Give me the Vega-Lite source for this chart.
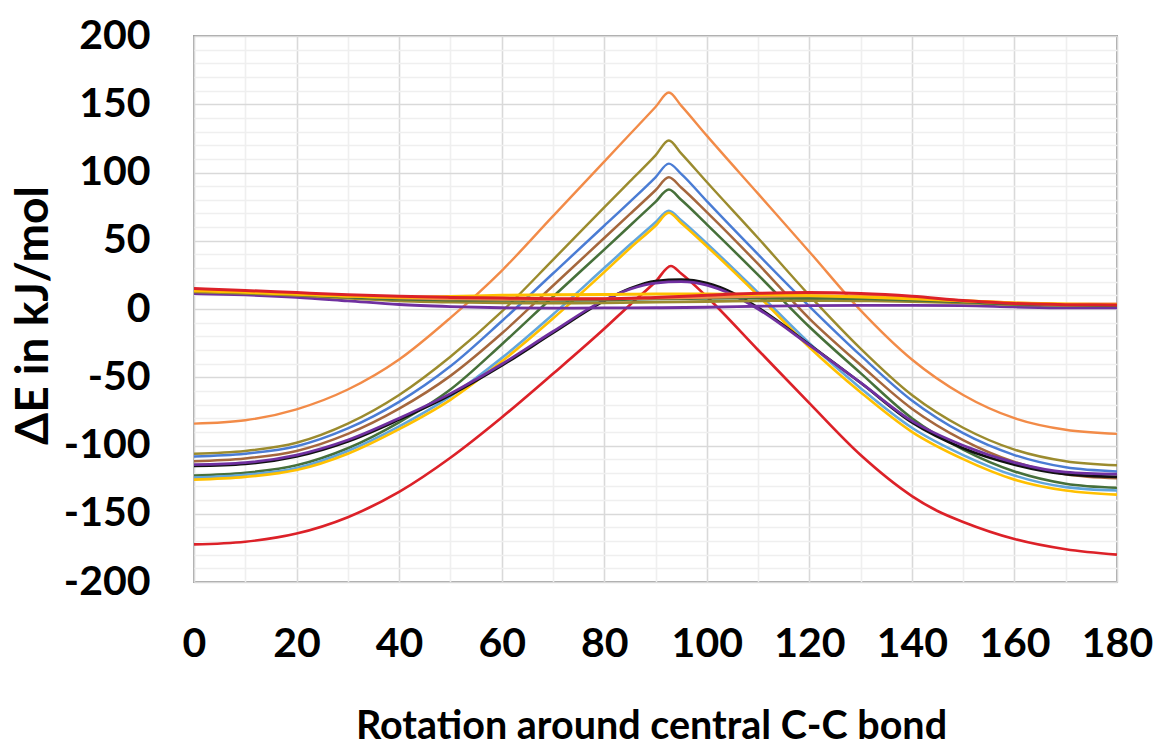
{
  "$schema": "https://vega.github.io/schema/vega-lite/v6.json",
  "autosize": {"type": "none"},
  "padding": {"left": 194, "top": 36, "right": 42, "bottom": 165},
  "width": 923,
  "height": 546,
  "background": "white",
  "config": {"view": {"stroke": "#A3A3A3", "strokeWidth": 2}},
  "data": {"values": [
    {"s":"a","x":0,"y":-84},{"s":"a","x":10,"y":-81.5},{"s":"a","x":20,"y":-73.5},{"s":"a","x":30,"y":-59},{"s":"a","x":40,"y":-37},{"s":"a","x":50,"y":-6.5},{"s":"a","x":60,"y":28},{"s":"a","x":70,"y":68},{"s":"a","x":80,"y":108},{"s":"a","x":85,"y":128},{"s":"a","x":90,"y":148},{"s":"a","x":92.6,"y":158.6},{"s":"a","x":95,"y":149},{"s":"a","x":100,"y":127},{"s":"a","x":110,"y":84.5},{"s":"a","x":120,"y":42},{"s":"a","x":130,"y":-1},{"s":"a","x":140,"y":-37},{"s":"a","x":150,"y":-63},{"s":"a","x":160,"y":-80},{"s":"a","x":170,"y":-88.5},{"s":"a","x":180,"y":-91.5},
    {"s":"b","x":0,"y":-106},{"s":"b","x":10,"y":-104},{"s":"b","x":20,"y":-98},{"s":"b","x":30,"y":-84},{"s":"b","x":40,"y":-63},{"s":"b","x":50,"y":-35},{"s":"b","x":60,"y":-2},{"s":"b","x":70,"y":36},{"s":"b","x":80,"y":74.5},{"s":"b","x":85,"y":93.5},{"s":"b","x":90,"y":112.5},{"s":"b","x":92.6,"y":123.5},{"s":"b","x":95,"y":114},{"s":"b","x":100,"y":93},{"s":"b","x":110,"y":52},{"s":"b","x":120,"y":10},{"s":"b","x":130,"y":-29},{"s":"b","x":140,"y":-63},{"s":"b","x":150,"y":-87},{"s":"b","x":160,"y":-103},{"s":"b","x":170,"y":-111.5},{"s":"b","x":180,"y":-114.5},
    {"s":"c","x":0,"y":-108},{"s":"c","x":10,"y":-106},{"s":"c","x":20,"y":-100.5},{"s":"c","x":30,"y":-87.5},{"s":"c","x":40,"y":-68},{"s":"c","x":50,"y":-42},{"s":"c","x":60,"y":-9},{"s":"c","x":70,"y":26},{"s":"c","x":80,"y":61},{"s":"c","x":85,"y":78.5},{"s":"c","x":90,"y":96.5},{"s":"c","x":92.6,"y":106.5},{"s":"c","x":95,"y":99},{"s":"c","x":100,"y":79},{"s":"c","x":110,"y":40},{"s":"c","x":120,"y":2},{"s":"c","x":130,"y":-34},{"s":"c","x":140,"y":-67},{"s":"c","x":150,"y":-91},{"s":"c","x":160,"y":-107},{"s":"c","x":170,"y":-116},{"s":"c","x":180,"y":-119},
    {"s":"d","x":0,"y":-111.5},{"s":"d","x":10,"y":-109.5},{"s":"d","x":20,"y":-104},{"s":"d","x":30,"y":-91.5},{"s":"d","x":40,"y":-73},{"s":"d","x":50,"y":-49},{"s":"d","x":60,"y":-18},{"s":"d","x":70,"y":17},{"s":"d","x":80,"y":52},{"s":"d","x":85,"y":69.5},{"s":"d","x":90,"y":87},{"s":"d","x":92.6,"y":96.5},{"s":"d","x":95,"y":89},{"s":"d","x":100,"y":71},{"s":"d","x":110,"y":33},{"s":"d","x":120,"y":-7},{"s":"d","x":130,"y":-41},{"s":"d","x":140,"y":-73},{"s":"d","x":150,"y":-96},{"s":"d","x":160,"y":-112},{"s":"d","x":170,"y":-121},{"s":"d","x":180,"y":-124},
    {"s":"e","x":0,"y":-122},{"s":"e","x":10,"y":-120},{"s":"e","x":20,"y":-114.5},{"s":"e","x":30,"y":-102},{"s":"e","x":40,"y":-83},{"s":"e","x":50,"y":-59},{"s":"e","x":60,"y":-26},{"s":"e","x":70,"y":9},{"s":"e","x":80,"y":43.5},{"s":"e","x":85,"y":61},{"s":"e","x":90,"y":78.5},{"s":"e","x":92.6,"y":87.5},{"s":"e","x":95,"y":80},{"s":"e","x":100,"y":62},{"s":"e","x":110,"y":25},{"s":"e","x":120,"y":-13},{"s":"e","x":130,"y":-47},{"s":"e","x":140,"y":-80},{"s":"e","x":150,"y":-103},{"s":"e","x":160,"y":-119},{"s":"e","x":170,"y":-128},{"s":"e","x":180,"y":-131},
    {"s":"f","x":0,"y":-123.5},{"s":"f","x":10,"y":-121.5},{"s":"f","x":20,"y":-116.5},{"s":"f","x":30,"y":-104},{"s":"f","x":40,"y":-86},{"s":"f","x":50,"y":-64},{"s":"f","x":60,"y":-36},{"s":"f","x":70,"y":-4},{"s":"f","x":80,"y":30},{"s":"f","x":85,"y":47},{"s":"f","x":90,"y":63.5},{"s":"f","x":92.6,"y":72},{"s":"f","x":95,"y":65},{"s":"f","x":100,"y":48},{"s":"f","x":110,"y":12},{"s":"f","x":120,"y":-25},{"s":"f","x":130,"y":-58},{"s":"f","x":140,"y":-87},{"s":"f","x":150,"y":-107},{"s":"f","x":160,"y":-122},{"s":"f","x":170,"y":-130.5},{"s":"f","x":180,"y":-133},
    {"s":"g","x":0,"y":-125},{"s":"g","x":10,"y":-123},{"s":"g","x":20,"y":-118},{"s":"g","x":30,"y":-106},{"s":"g","x":40,"y":-88},{"s":"g","x":50,"y":-66.5},{"s":"g","x":60,"y":-38.5},{"s":"g","x":70,"y":-7},{"s":"g","x":80,"y":27},{"s":"g","x":85,"y":44.5},{"s":"g","x":90,"y":61},{"s":"g","x":92.6,"y":70.5},{"s":"g","x":95,"y":63},{"s":"g","x":100,"y":46},{"s":"g","x":110,"y":10},{"s":"g","x":120,"y":-28},{"s":"g","x":130,"y":-61},{"s":"g","x":140,"y":-90},{"s":"g","x":150,"y":-110},{"s":"g","x":160,"y":-125},{"s":"g","x":170,"y":-133},{"s":"g","x":180,"y":-136},
    {"s":"h","x":0,"y":-172.5},{"s":"h","x":10,"y":-170.5},{"s":"h","x":20,"y":-164.5},{"s":"h","x":30,"y":-152.5},{"s":"h","x":40,"y":-134},{"s":"h","x":50,"y":-109},{"s":"h","x":60,"y":-79.5},{"s":"h","x":70,"y":-47.5},{"s":"h","x":80,"y":-14.5},{"s":"h","x":85,"y":3},{"s":"h","x":90,"y":20},{"s":"h","x":93,"y":31.5},{"s":"h","x":95,"y":26},{"s":"h","x":100,"y":9},{"s":"h","x":110,"y":-30},{"s":"h","x":120,"y":-69},{"s":"h","x":130,"y":-107},{"s":"h","x":140,"y":-137},{"s":"h","x":145,"y":-148},{"s":"h","x":150,"y":-156},{"s":"h","x":160,"y":-168.5},{"s":"h","x":170,"y":-176},{"s":"h","x":180,"y":-180},
    {"s":"i","x":0,"y":-115},{"s":"i","x":10,"y":-113.5},{"s":"i","x":20,"y":-108},{"s":"i","x":30,"y":-97},{"s":"i","x":40,"y":-81},{"s":"i","x":50,"y":-63},{"s":"i","x":60,"y":-41.5},{"s":"i","x":70,"y":-17.5},{"s":"i","x":80,"y":6},{"s":"i","x":85,"y":15},{"s":"i","x":90,"y":20.5},{"s":"i","x":95,"y":21.5},{"s":"i","x":100,"y":19},{"s":"i","x":105,"y":12},{"s":"i","x":110,"y":1},{"s":"i","x":120,"y":-26},{"s":"i","x":130,"y":-54},{"s":"i","x":140,"y":-83},{"s":"i","x":150,"y":-102},{"s":"i","x":160,"y":-114},{"s":"i","x":170,"y":-121},{"s":"i","x":180,"y":-123},
    {"s":"j","x":0,"y":-114},{"s":"j","x":10,"y":-112.5},{"s":"j","x":20,"y":-107},{"s":"j","x":30,"y":-96},{"s":"j","x":40,"y":-80},{"s":"j","x":50,"y":-62},{"s":"j","x":60,"y":-40.5},{"s":"j","x":70,"y":-16.5},{"s":"j","x":80,"y":6.5},{"s":"j","x":85,"y":14.5},{"s":"j","x":90,"y":19},{"s":"j","x":95,"y":20},{"s":"j","x":100,"y":17.5},{"s":"j","x":105,"y":10.5},{"s":"j","x":110,"y":0},{"s":"j","x":120,"y":-26.5},{"s":"j","x":130,"y":-54},{"s":"j","x":140,"y":-82},{"s":"j","x":150,"y":-100},{"s":"j","x":160,"y":-112.5},{"s":"j","x":170,"y":-119.5},{"s":"j","x":180,"y":-121},
    {"s":"k","x":0,"y":11.3},{"s":"k","x":10,"y":10.3},{"s":"k","x":20,"y":8.6},{"s":"k","x":30,"y":6},{"s":"k","x":40,"y":3.3},{"s":"k","x":50,"y":1.8},{"s":"k","x":60,"y":0.9},{"s":"k","x":70,"y":0.6},{"s":"k","x":80,"y":0.8},{"s":"k","x":90,"y":0.9},{"s":"k","x":100,"y":1.3},{"s":"k","x":110,"y":2},{"s":"k","x":120,"y":2.5},{"s":"k","x":130,"y":2.7},{"s":"k","x":140,"y":2.7},{"s":"k","x":150,"y":2.5},{"s":"k","x":160,"y":1.5},{"s":"k","x":170,"y":0.8},{"s":"k","x":180,"y":0.8},
    {"s":"l","x":0,"y":12.5},{"s":"l","x":10,"y":11.5},{"s":"l","x":20,"y":10},{"s":"l","x":30,"y":8},{"s":"l","x":40,"y":6},{"s":"l","x":50,"y":5},{"s":"l","x":60,"y":4.5},{"s":"l","x":70,"y":4.3},{"s":"l","x":80,"y":4.5},{"s":"l","x":90,"y":5},{"s":"l","x":100,"y":5.5},{"s":"l","x":110,"y":6},{"s":"l","x":120,"y":6.2},{"s":"l","x":130,"y":6},{"s":"l","x":140,"y":5.5},{"s":"l","x":150,"y":4.5},{"s":"l","x":160,"y":3.2},{"s":"l","x":170,"y":2.7},{"s":"l","x":180,"y":2.5},
    {"s":"m","x":0,"y":13.5},{"s":"m","x":10,"y":12},{"s":"m","x":20,"y":10.5},{"s":"m","x":30,"y":8.7},{"s":"m","x":40,"y":7.2},{"s":"m","x":50,"y":6.6},{"s":"m","x":60,"y":6.4},{"s":"m","x":70,"y":6.4},{"s":"m","x":80,"y":6.6},{"s":"m","x":90,"y":7.4},{"s":"m","x":100,"y":7.8},{"s":"m","x":110,"y":8.1},{"s":"m","x":120,"y":8.1},{"s":"m","x":130,"y":7.6},{"s":"m","x":140,"y":6.6},{"s":"m","x":150,"y":5.2},{"s":"m","x":160,"y":3.7},{"s":"m","x":170,"y":3},{"s":"m","x":180,"y":2.7},
    {"s":"n","x":0,"y":13.8},{"s":"n","x":10,"y":12.6},{"s":"n","x":20,"y":11.2},{"s":"n","x":30,"y":9.5},{"s":"n","x":40,"y":8.2},{"s":"n","x":50,"y":7.5},{"s":"n","x":60,"y":7.2},{"s":"n","x":70,"y":7.2},{"s":"n","x":80,"y":7.4},{"s":"n","x":90,"y":8},{"s":"n","x":100,"y":8.6},{"s":"n","x":110,"y":9.3},{"s":"n","x":120,"y":9.7},{"s":"n","x":130,"y":9.5},{"s":"n","x":140,"y":8},{"s":"n","x":150,"y":6},{"s":"n","x":160,"y":4.4},{"s":"n","x":170,"y":3.6},{"s":"n","x":180,"y":3.7},
    {"s":"o","x":0,"y":13.3},{"s":"o","x":10,"y":12.2},{"s":"o","x":20,"y":10.8},{"s":"o","x":30,"y":9.4},{"s":"o","x":40,"y":8.6},{"s":"o","x":50,"y":9.2},{"s":"o","x":60,"y":10},{"s":"o","x":70,"y":10.4},{"s":"o","x":80,"y":10.6},{"s":"o","x":90,"y":11},{"s":"o","x":100,"y":11},{"s":"o","x":110,"y":10.6},{"s":"o","x":120,"y":9.8},{"s":"o","x":130,"y":8.8},{"s":"o","x":140,"y":7.5},{"s":"o","x":150,"y":6},{"s":"o","x":160,"y":4.5},{"s":"o","x":170,"y":3.6},{"s":"o","x":180,"y":3.2},
    {"s":"p","x":0,"y":15},{"s":"p","x":10,"y":13.6},{"s":"p","x":20,"y":12},{"s":"p","x":30,"y":10.5},{"s":"p","x":40,"y":9.3},{"s":"p","x":50,"y":8.5},{"s":"p","x":60,"y":8},{"s":"p","x":70,"y":7.6},{"s":"p","x":80,"y":7.5},{"s":"p","x":90,"y":8.5},{"s":"p","x":100,"y":10},{"s":"p","x":110,"y":11.5},{"s":"p","x":120,"y":12},{"s":"p","x":130,"y":11.3},{"s":"p","x":140,"y":9.3},{"s":"p","x":150,"y":6.2},{"s":"p","x":160,"y":4},{"s":"p","x":170,"y":3.2},{"s":"p","x":180,"y":3}
  ]},
  "mark": {"type": "line", "interpolate": "monotone", "clip": true},
  "encoding": {
    "x": {"field": "x", "type": "quantitative",
      "scale": {"domain": [0, 180], "nice": false, "zero": false},
      "axis": {
        "values": [0,10,20,30,40,50,60,70,80,90,100,110,120,130,140,150,160,170,180],
        "labelExpr": "datum.value % 20 === 0 ? '' + datum.value : ''",
        "grid": true,
        "gridColor": {"condition": {"test": "datum.value % 20 === 0", "value": "#D9D9D9"}, "value": "#EFEFEF"},
        "gridWidth": 1.6,
        "domain": false, "ticks": false,
        "labelFont": "Lato", "labelFontWeight": "bold", "labelFontSize": 41, "labelColor": "#000000",
        "labelPadding": 42, "labelFlush": false, "labelOverlap": false, "labelBound": false,
        "title": "Rotation around central C-C bond",
        "titleFont": "Lato", "titleFontWeight": "bold", "titleFontSize": 39.5, "titleColor": "#000000",
        "titleX": 457, "titleY": 144, "titleBaseline": "middle", "titleAlign": "center"
      }
    },
    "y": {"field": "y", "type": "quantitative",
      "scale": {"domain": [-200, 200], "nice": false, "zero": false},
      "axis": {
        "values": [-200,-190,-180,-170,-160,-150,-140,-130,-120,-110,-100,-90,-80,-70,-60,-50,-40,-30,-20,-10,0,10,20,30,40,50,60,70,80,90,100,110,120,130,140,150,160,170,180,190,200],
        "labelExpr": "datum.value % 50 === 0 ? '' + datum.value : ''",
        "grid": true,
        "gridColor": {"condition": {"test": "datum.value % 50 === 0", "value": "#D9D9D9"}, "value": "#EFEFEF"},
        "gridWidth": 1.6,
        "domain": false, "ticks": false,
        "labelFont": "Lato", "labelFontWeight": "bold", "labelFontSize": 41, "labelColor": "#000000",
        "labelPadding": 44, "labelFlush": false, "labelOverlap": false, "labelBound": false,
        "title": "ΔE in kJ/mol",
        "titleFont": "Lato", "titleFontWeight": "bold", "titleFontSize": 46, "titleColor": "#000000",
        "titleX": -161, "titleY": 279, "titleBaseline": "middle", "titleAlign": "center", "titleAngle": -90
      }
    },
    "color": {"field": "s", "type": "nominal", "legend": null,
      "scale": {
        "domain": ["a","b","c","d","e","f","g","h","i","j","k","l","m","n","o","p"],
        "range": ["#F28B48","#9B8B2E","#4A7CD4","#A5673D","#46703A","#62A6DC","#FFC000","#DC2128","#111111","#7030A0","#7030A0","#9B8B2E","#46703A","#F28B48","#FFC000","#DC2128"]
      }
    },
    "strokeWidth": {"field": "s", "type": "nominal", "legend": null,
      "scale": {
        "domain": ["a","b","c","d","e","f","g","h","i","j","k","l","m","n","o","p"],
        "range": [2.4,3,3,3,3,3,3,2.8,3.2,3,3.2,3.2,3.2,3.2,3.2,3.4]
      }
    }
  }
}
